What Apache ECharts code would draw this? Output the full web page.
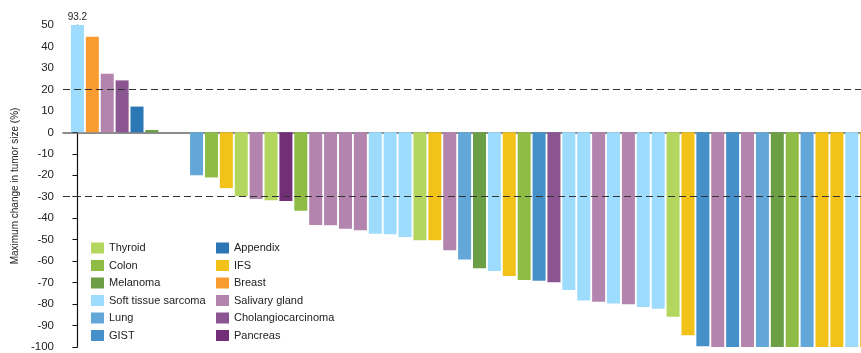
<!DOCTYPE html>
<html>
<head>
<meta charset="utf-8">
<script src="https://cdn.jsdelivr.net/npm/echarts@6/dist/echarts.min.js"></script>
<style>
  html, body { margin: 0; padding: 0; background: #fff; }
  #chart { width: 861px; height: 353px; }
</style>
</head>
<body>
<div id="chart"></div>
<script>
// Tumor types shown in the two legend columns
const legendLeft = ['Thyroid', 'Colon', 'Melanoma', 'Soft tissue sarcoma', 'Lung', 'GIST'];
const legendRight = ['Appendix', 'IFS', 'Breast', 'Salivary gland', 'Cholangiocarcinoma', 'Pancreas'];
const tumorTypes = legendLeft.concat(legendRight);
const typeColors = {
  'Thyroid': '#b3d65f',
  'Colon': '#8fbc45',
  'Melanoma': '#6c9e45',
  'Soft tissue sarcoma': '#9edcfe',
  'Lung': '#63a7d9',
  'GIST': '#4590c8',
  'Appendix': '#2b76b4',
  'IFS': '#f2c218',
  'Breast': '#f99b2e',
  'Salivary gland': '#b384ae',
  'Cholangiocarcinoma': '#8a5590',
  'Pancreas': '#722f78'
};

// One entry per patient, in waterfall order (null = no measurable change shown)
const patientType = [
  'Soft tissue sarcoma', 'Breast', 'Salivary gland', 'Cholangiocarcinoma', 'Appendix', 'Melanoma',
  null, null,
  'Lung', 'Colon', 'IFS', 'Thyroid', 'Salivary gland', 'Thyroid', 'Pancreas', 'Colon',
  'Salivary gland', 'Salivary gland', 'Salivary gland', 'Salivary gland',
  'Soft tissue sarcoma', 'Soft tissue sarcoma', 'Soft tissue sarcoma', 'Thyroid', 'IFS',
  'Salivary gland', 'Lung', 'Melanoma', 'Soft tissue sarcoma', 'IFS', 'Colon', 'GIST',
  'Cholangiocarcinoma', 'Soft tissue sarcoma', 'Soft tissue sarcoma', 'Salivary gland',
  'Soft tissue sarcoma', 'Salivary gland', 'Soft tissue sarcoma', 'Soft tissue sarcoma',
  'Thyroid', 'IFS', 'GIST', 'Salivary gland', 'GIST', 'Salivary gland', 'Lung', 'Melanoma',
  'Colon', 'Lung', 'IFS', 'IFS', 'Soft tissue sarcoma', 'IFS'
];
const maxChange = [
  93.2, 44.5, 27.3, 24.2, 12, 1.1,
  null, null,
  -20, -21, -26, -29.8, -31.1, -31.6, -32, -36.5,
  -43.2, -43.3, -44.9, -45.6,
  -47.3, -47.5, -48.8, -50.3, -50.3,
  -54.9, -59.2, -63.3, -64.6, -66.9, -68.8, -69.1,
  -69.8, -73.4, -78.3, -78.9,
  -79.7, -80.1, -81.4, -82.2,
  -85.9, -94.5, -99.7, -100, -100, -100, -100, -100,
  -100, -100, -100, -100, -100, -100
];

// Y axis range and reference thresholds (PD +20%, PR -30%)
const yMin = -100, yMax = 50, yStep = 10;
const thresholds = [20, -30];

const FONT = '"Liberation Sans", Arial, Helvetica, sans-serif';

const series = tumorTypes.map((t, si) => {
  const data = [];
  patientType.forEach((pt, i) => {
    if (pt !== t || maxChange[i] === null) return;
    const v = maxChange[i];
    if (v > yMax) {
      // bar runs off the top of the axis: print its true value
      data.push({ value: [i, v], label: { show: true } });
    } else {
      data.push({ value: [i, v] });
    }
  });
  const s = {
    name: t,
    type: 'bar',
    barWidth: 13,
    barGap: '-100%',
    clip: true,
    itemStyle: { color: typeColors[t] },
    label: {
      show: false,
      position: 'top',
      distance: 3,
      fontFamily: FONT,
      fontSize: 10,
      color: '#222',
      formatter: p => String(p.value[1])
    },
    emphasis: { disabled: true },
    data: data
  };
  if (si === 0) {
    s.markLine = {
      silent: true,
      symbol: 'none',
      label: { show: false },
      lineStyle: { color: '#333', width: 1, type: [7, 4] },
      data: thresholds.map(v => ({ yAxis: v }))
    };
  }
  return s;
});

const chart = echarts.init(document.getElementById('chart'));
const legendCommon = {
  orient: 'vertical',
  itemWidth: 13,
  itemHeight: 11,
  itemGap: 3.5,
  icon: 'rect',
  selectedMode: false,
  textStyle: { fontFamily: FONT, fontSize: 11, color: '#222', lineHeight: 14 }
};
chart.setOption({
  animation: false,
  backgroundColor: '#fff',
  grid: { left: 63, right: 0, top: 25, bottom: 3, containLabel: false },
  legend: [
    Object.assign({ left: 86, top: 236, data: legendLeft }, legendCommon),
    Object.assign({ left: 211, top: 236, data: legendRight }, legendCommon)
  ],
  xAxis: {
    type: 'value',
    min: -0.97,
    max: 52.62,
    axisLabel: { show: false },
    axisTick: { show: false },
    splitLine: { show: false },
    axisLine: { show: true, onZero: true, lineStyle: { color: '#666', width: 1.5 } }
  },
  yAxis: {
    type: 'value',
    min: yMin,
    max: yMax,
    interval: yStep,
    name: 'Maximum change in tumor size (%)',
    nameLocation: 'middle',
    nameGap: 36,
    nameTextStyle: { fontFamily: FONT, fontSize: 10, color: '#222' },
    axisLine: { show: true, lineStyle: { color: '#111', width: 1.2 } },
    axisTick: { show: true, inside: false, length: 5, lineStyle: { color: '#111', width: 1 } },
    axisLabel: { fontFamily: FONT, fontSize: 11.5, color: '#222', margin: 9 },
    splitLine: { show: false }
  },
  series: series
});
</script>
</body>
</html>
